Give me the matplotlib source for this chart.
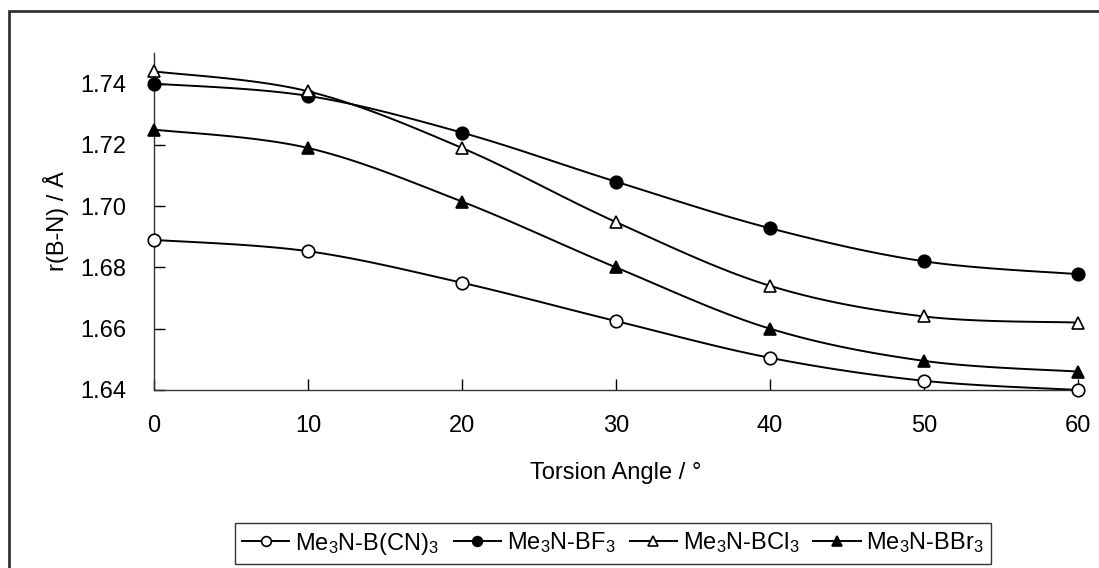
import numpy as np
import matplotlib
matplotlib.use('Agg')
import matplotlib.pyplot as plt
from matplotlib.patches import Rectangle

plt.rcParams['font.family'] = ['Liberation Sans', 'DejaVu Sans']
plt.rcParams['mathtext.fontset'] = 'custom'
plt.rcParams['mathtext.rm'] = 'Liberation Sans'
plt.rcParams['mathtext.it'] = 'Liberation Sans'
plt.rcParams['mathtext.default'] = 'regular'

# torsion angles and B-N distances
angle = [0, 10, 20, 30, 40, 50, 60]
r_bcn3 = [1.689, 1.6853, 1.675, 1.6625, 1.6505, 1.643, 1.640]
r_bf3 = [1.740, 1.736, 1.724, 1.708, 1.6928, 1.682, 1.6778]
r_bcl3 = [1.744, 1.7375, 1.719, 1.6948, 1.674, 1.664, 1.662]
r_bbr3 = [1.725, 1.719, 1.7015, 1.680, 1.660, 1.6495, 1.646]

labels = ['Me$_3$N-B(CN)$_3$', 'Me$_3$N-BF$_3$', 'Me$_3$N-BCl$_3$', 'Me$_3$N-BBr$_3$']
markers = ['o', 'o', '^', '^']
fills = ['white', 'black', 'white', 'black']


def smooth(x, y, n=20):
    # excel-like bezier smoothing between the points
    p = np.column_stack([x, y]).astype(float)
    p = np.vstack([p[0], p, p[-1]])
    out = []
    t = np.linspace(0, 1, n)[:, None]
    for i in range(1, len(p) - 2):
        p0, p1 = p[i], p[i + 1]
        c1 = p0 + (p[i + 1] - p[i - 1]) / 6
        c2 = p1 - (p[i + 2] - p[i]) / 6
        seg = (1 - t) ** 3 * p0 + 3 * (1 - t) ** 2 * t * c1 + 3 * (1 - t) * t ** 2 * c2 + t ** 3 * p1
        out.append(seg)
    out = np.vstack(out)
    return out[:, 0], out[:, 1]


fig = plt.figure(figsize=(10.99, 5.68), dpi=100)
ax = fig.add_axes([0.1401, 0.3134, 0.8409, 0.5933])

for ys, lab, m, fc in zip([r_bcn3, r_bf3, r_bcl3, r_bbr3], labels, markers, fills):
    sx, sy = smooth(angle, ys)
    ax.plot(sx, sy, color='black', lw=1.4, zorder=2)
    ax.plot(angle, ys, ls='none', marker=m, ms=9, mfc=fc, mec='black', mew=1.2, zorder=3, clip_on=False)
    ax.plot([], [], color='black', lw=1.4, marker=m, ms=7, mfc=fc, mec='black', mew=1.2, label=lab)

ax.set_xlim(0, 60)
ax.set_ylim(1.64, 1.75)
ax.set_xticks(angle)
ax.set_yticks([1.64, 1.66, 1.68, 1.70, 1.72, 1.74])
ax.set_yticklabels(['1.64', '1.66', '1.68', '1.70', '1.72', '1.74'])
ax.tick_params(direction='in', length=8, width=1, labelsize=17)
ax.tick_params(axis='y', pad=20)
ax.tick_params(axis='x', pad=18)
ax.spines['top'].set_visible(False)
ax.spines['right'].set_visible(False)
for s in ['left', 'bottom']:
    ax.spines[s].set_linewidth(1)
    ax.spines[s].set_color('#333333')

ax.set_xlabel('Torsion Angle / °', fontsize=17, labelpad=18)
ax.set_ylabel('r(B-N) / Å', fontsize=17, labelpad=8)

leg = fig.legend(loc='center', bbox_to_anchor=(0.558, 0.043), ncol=4, fontsize=17,
                 frameon=True, fancybox=False, edgecolor='black', handlelength=2.0,
                 columnspacing=0.6, handletextpad=0.25, borderpad=0.3)
leg.get_frame().set_linewidth(1)

fig.patches.append(Rectangle((9 / 1099, -0.1), 1.2, 1 - 11 / 568 + 0.1, transform=fig.transFigure,
                             fill=False, edgecolor='#333333', lw=2))

fig.savefig('out.png', dpi=100)
